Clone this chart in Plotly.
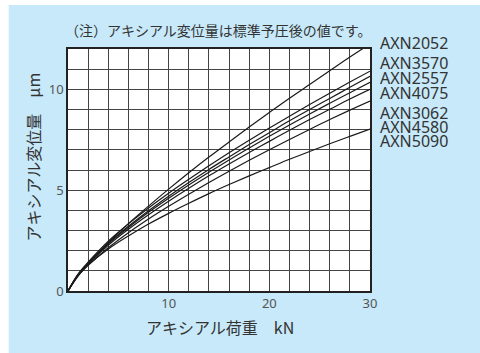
import plotly.graph_objects as go

# ---- data ----
load_kn = [0, 1, 2, 4, 6, 8, 10, 12, 14, 16, 18, 20, 22, 24, 26, 28, 30]
series_names = ["AXN2052", "AXN3570", "AXN2557", "AXN4075", "AXN3062", "AXN4580", "AXN5090"]
axn2052 = [0, 0.74, 1.32, 2.40, 3.34, 4.21, 5.05, 5.86, 6.64, 7.39, 8.13, 8.85, 9.56, 10.24, 10.92, 11.60, 12.25]
axn3570 = [0, 0.84, 1.43, 2.47, 3.33, 4.12, 4.85, 5.54, 6.21, 6.86, 7.48, 8.08, 8.67, 9.25, 9.81, 10.36, 10.90]
axn2557 = [0, 0.81, 1.38, 2.38, 3.21, 3.98, 4.70, 5.38, 6.03, 6.65, 7.26, 7.85, 8.44, 9.00, 9.55, 10.10, 10.65]
axn4075 = [0, 0.80, 1.36, 2.34, 3.15, 3.90, 4.60, 5.26, 5.89, 6.50, 7.09, 7.67, 8.23, 8.78, 9.31, 9.83, 10.35]
axn3062 = [0, 0.79, 1.33, 2.27, 3.06, 3.78, 4.45, 5.09, 5.71, 6.30, 6.87, 7.42, 7.97, 8.50, 9.01, 9.52, 10.00]
axn4580 = [0, 0.76, 1.27, 2.14, 2.89, 3.57, 4.20, 4.80, 5.38, 5.94, 6.48, 7.00, 7.51, 8.01, 8.50, 8.97, 9.42]
axn5090 = [0, 0.80, 1.29, 2.08, 2.73, 3.32, 3.85, 4.35, 4.83, 5.28, 5.71, 6.12, 6.53, 6.92, 7.30, 7.67, 8.03]
series_values = [axn2052, axn3570, axn2557, axn4075, axn3062, axn4580, axn5090]
x_tick_vals = [10, 20, 30]
y_tick_vals = [0, 5, 10]

note_text = "（注）アキシアル変位量は標準予圧後の値です。"
x_title = "アキシアル荷重　kN"
y_title = "アキシアル変位量　μm"

FONT = "Noto Sans CJK JP"
LATIN = "Noto Sans"
BLUE = "#c7e9f9"
TXT = "#333333"

fig = go.Figure()
for name, vals in zip(series_names, series_values):
    fig.add_trace(go.Scatter(x=load_kn, y=vals, mode="lines", name=name,
                             line=dict(color="#1a1a1a", width=1.2, shape="spline", smoothing=1.0),
                             showlegend=False))

# label positions (paper y) at right side
label_y = [1.0235, 0.941, 0.879, 0.817, 0.735, 0.677, 0.618]
for name, ly in zip(series_names, label_y):
    fig.add_annotation(x=1.028, xref="paper", y=ly, yref="paper", text=name, showarrow=False,
                       xanchor="left", yanchor="middle", font=dict(family=LATIN, size=16, color=TXT))

fig.add_annotation(x=-0.0175, xref="paper", y=1.078, yref="paper", text=note_text, showarrow=False,
                   xanchor="left", yanchor="middle", font=dict(family=FONT, size=14, color=TXT))
fig.add_annotation(x=0.502, xref="paper", y=-0.1505, yref="paper", text=x_title, showarrow=False,
                   xanchor="center", yanchor="middle", font=dict(family=FONT, size=16, color=TXT))
fig.add_annotation(x=-0.1168, xref="paper", y=0.5546, yref="paper", text=y_title, showarrow=False,
                   textangle=-90, xanchor="center", yanchor="middle", font=dict(family=FONT, size=16, color=TXT))

# white strips at left and top outside the blue panel
fig.add_shape(type="rect", xref="paper", yref="paper", x0=-0.3, x1=(9 - 68.3) / 302.2, y0=-0.3, y1=1.3,
              fillcolor="white", line=dict(width=0), layer="below")
fig.add_shape(type="rect", xref="paper", yref="paper", x0=-0.3, x1=1.5, y0=(291.5 - 5) / 242.5, y1=1.3,
              fillcolor="white", line=dict(width=0), layer="below")

fig.update_layout(
    width=480, height=353,
    margin=dict(l=68, r=110, t=49, b=62),
    paper_bgcolor=BLUE, plot_bgcolor="white",
    font=dict(family=FONT, color=TXT, size=13),
    xaxis=dict(range=[0, 30], tickvals=x_tick_vals, showgrid=True, gridcolor="#444", gridwidth=1,
               minor=dict(dtick=2, showgrid=True, gridcolor="#444", gridwidth=1),
               showline=True, linecolor="#222", linewidth=1.5, mirror=True, zeroline=False,
               ticks="", tickfont=dict(family=LATIN, size=13, color="#555")),
    yaxis=dict(range=[0, 12], tickvals=y_tick_vals, showgrid=True, gridcolor="#444", gridwidth=1,
               minor=dict(dtick=1, showgrid=True, gridcolor="#444", gridwidth=1),
               showline=True, linecolor="#222", linewidth=1.5, mirror=True, zeroline=False,
               ticks="", tickfont=dict(family=LATIN, size=13, color="#555")),
)

fig.write_html("out.html")
